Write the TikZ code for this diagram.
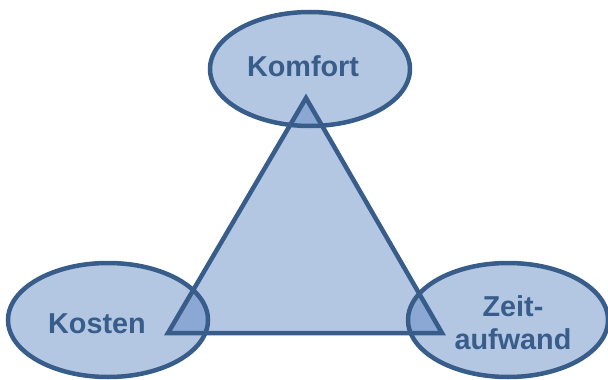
\documentclass[tikz,border=0pt]{standalone}
\usepackage{fontspec}
\setmainfont{Liberation Sans}
\usetikzlibrary{shapes.geometric}

\definecolor{rand}{RGB}{56,93,138}
\definecolor{hell}{RGB}{179,199,227}
\definecolor{mittel}{RGB}{90,133,194}

\tikzset{
	ziel/.style={ellipse, fill=hell, inner sep=0pt, minimum width=200pt, minimum height=114pt},
	schrift/.style={text=rand, font=\bfseries\fontsize{28.8}{33}\selectfont, align=center},
	rahmen/.style={draw=rand, line width=4.5pt}
}

\begin{document}
\begin{tikzpicture}[x=1pt,y=-1pt]

	\useasboundingbox (0,0) rectangle (608,380);

	\node[ziel] (komfort) at (310,69) {};
	\node[ziel] (kosten) at (108,320) {};
	\node[ziel] (zeit) at (508,320) {};

	\node[schrift] (tkomfort) at (303,66) {Komfort};
	\node[schrift] (tkosten) at (97,324) {Kosten};
	\node[schrift] (tzeit) at (513,323) {Zeit-\\aufwand};

	\coordinate (t1) at (306,98);
	\coordinate (t2) at (168,333);
	\coordinate (t3) at (442,333);

	\filldraw[fill=mittel, fill opacity=0.46, draw=rand, line width=4.5pt, line join=miter]
		(t1) -- (t2) -- (t3) -- cycle;

	\foreach \n in {komfort,kosten,zeit}
	{
		\draw[rahmen] (\n.center) ellipse [x radius=100, y radius=57];
	};
\end{tikzpicture}
\end{document}
